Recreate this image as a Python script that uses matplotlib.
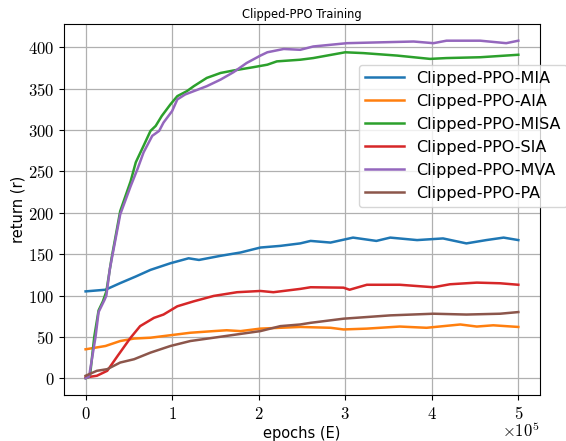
import matplotlib
matplotlib.use("Agg")
import matplotlib.pyplot as plt
from matplotlib.ticker import FuncFormatter

plt.rcParams['mathtext.fontset'] = 'cm'

# x values in units of 1e5 epochs
mia_x = [0, 0.23, 0.40, 0.58, 0.75, 0.98, 1.19, 1.31, 1.56, 1.79, 2.02, 2.25, 2.48, 2.60, 2.83, 3.09, 3.36, 3.52, 3.83, 4.13, 4.40, 4.63, 4.83, 5.0]
mia_y = [105, 107, 115, 123, 131, 139, 145, 143, 148, 152, 158, 160, 163, 166, 164, 170, 166, 170, 167, 169, 163, 167, 170, 167]

aia_x = [0, 0.23, 0.40, 0.56, 0.75, 0.98, 1.21, 1.48, 1.63, 1.79, 2.02, 2.25, 2.48, 2.83, 2.98, 3.25, 3.63, 3.94, 4.33, 4.52, 4.71, 5.0]
aia_y = [35, 39, 45, 48, 49, 52, 55, 57, 58, 57, 60, 61, 62, 61, 59, 60, 62.5, 61, 65, 62.5, 64, 62]

misa_x = [0, 0.05, 0.10, 0.15, 0.20, 0.24, 0.30, 0.40, 0.52, 0.58, 0.67, 0.75, 0.81, 0.88, 0.98, 1.06, 1.17, 1.25, 1.40, 1.56, 1.71, 1.94, 2.10, 2.21, 2.48, 2.63, 3.0, 3.21, 3.6, 3.98, 4.17, 4.56, 5.0]
misa_y = [0, 2, 50, 82, 93, 105, 145, 202, 238, 261, 281, 299, 305, 317, 331, 341, 347, 353, 363, 369, 372, 376, 379, 383, 385, 387, 394, 393, 390, 386, 387, 388, 391]

sia_x = [0, 0.13, 0.25, 0.37, 0.52, 0.63, 0.79, 0.90, 1.06, 1.25, 1.48, 1.75, 2.02, 2.17, 2.48, 2.60, 2.98, 3.05, 3.25, 3.63, 4.02, 4.21, 4.52, 4.79, 5.0]
sia_y = [1, 3, 9, 27, 49, 63, 73, 77, 87, 93, 99.5, 104, 105.5, 104, 108, 110, 109.5, 107, 113, 113, 110, 113.6, 115.6, 114.8, 113]

mva_x = [0, 0.04, 0.115, 0.15, 0.22, 0.24, 0.28, 0.40, 0.52, 0.60, 0.67, 0.77, 0.85, 0.90, 1.0, 1.06, 1.15, 1.25, 1.40, 1.56, 1.71, 1.86, 2.02, 2.10, 2.29, 2.48, 2.63, 3.02, 3.40, 3.79, 4.02, 4.17, 4.56, 4.86, 5.0]
mva_y = [0, 2, 50, 80, 95, 100, 132, 198, 232, 253, 273, 293, 299, 309, 323, 337, 343, 347, 353, 361, 370, 381, 390, 394, 398, 397, 401, 405, 406, 407, 405, 408, 408, 405, 408]

pa_x = [0, 0.13, 0.25, 0.40, 0.56, 0.75, 0.98, 1.21, 1.48, 1.75, 2.02, 2.25, 2.48, 2.60, 2.98, 3.52, 4.02, 4.40, 4.79, 5.0]
pa_y = [3, 9, 11, 19, 23, 31, 39, 45, 49, 53, 57, 63, 65, 67, 72, 76, 78, 77, 78, 80]

series = [
    ("Clipped-PPO-MIA", mia_x, mia_y, "#1f77b4"),
    ("Clipped-PPO-AIA", aia_x, aia_y, "#ff7f0e"),
    ("Clipped-PPO-MISA", misa_x, misa_y, "#2ca02c"),
    ("Clipped-PPO-SIA", sia_x, sia_y, "#d62728"),
    ("Clipped-PPO-MVA", mva_x, mva_y, "#9467bd"),
    ("Clipped-PPO-PA", pa_x, pa_y, "#8c564b"),
]

fig = plt.figure(figsize=(5.66, 4.41), dpi=100)
ax = fig.add_axes([0.113, 0.104, 0.841, 0.842])

for label, xs, ys, c in series:
    ax.plot([x * 1e5 for x in xs], ys, color=c, lw=1.8, label=label)

ax.grid(True, color='#b0b0b0', lw=0.9)
ax.set_xticks([0, 1e5, 2e5, 3e5, 4e5, 5e5])
ax.set_yticks([0, 50, 100, 150, 200, 250, 300, 350, 400])
ax.xaxis.set_major_formatter(FuncFormatter(lambda v, p: r"$%d$" % round(v / 1e5)))
ax.yaxis.set_major_formatter(FuncFormatter(lambda v, p: r"$%d$" % round(v)))
ax.tick_params(labelsize=12)
ax.text(1.0, -0.072, r"$\times10^{5}$", transform=ax.transAxes, ha='right', va='top', fontsize=12)

ax.set_xlabel("epochs (E)", fontsize=10.5, labelpad=2)
ax.set_ylabel("return (r)", fontsize=10.5, labelpad=2)
ax.set_title("Clipped-PPO Training", fontsize=8.3, pad=4)

ax.legend(loc='upper left', bbox_to_anchor=(0.62, 0.89), fontsize=11.5, handlelength=2.4, borderaxespad=0)

fig.savefig("out.png", dpi=100)
